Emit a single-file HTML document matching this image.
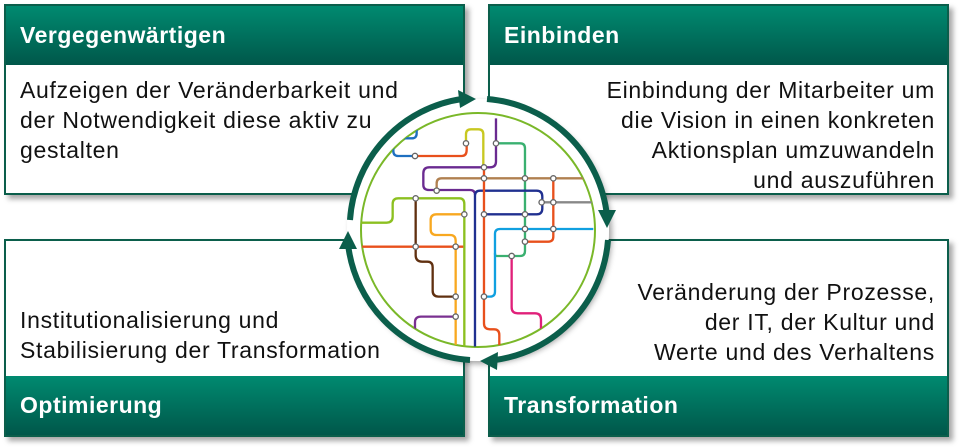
<!DOCTYPE html>
<html><head><meta charset="utf-8"><style>
body{margin:0;width:970px;height:448px;background:#fff;position:relative;overflow:hidden;font-family:"Liberation Sans",sans-serif}
.box{position:absolute;width:457px;background:#fff;border:2px solid #0b5e4b;box-shadow:4px 4px 5px rgba(0,0,0,.35)}
.hd{position:absolute;left:0;right:0;height:59px;background:linear-gradient(#008a70,#00574a);color:#fff;font-weight:bold;font-size:23px;letter-spacing:0.5px;line-height:59px;padding-left:14px}
.tx{position:absolute;font-size:23px;letter-spacing:0.7px;line-height:30px;color:#111;white-space:nowrap}
</style></head><body>
<div class="box" style="left:4px;top:4px;height:187px"><div class="hd" style="top:0">Vergegenwärtigen</div>
<div class="tx" style="left:14px;top:69px">Aufzeigen der Veränderbarkeit und<br>der Notwendigkeit diese aktiv zu<br>gestalten</div></div>
<div class="box" style="left:488px;top:4px;height:187px"><div class="hd" style="top:0">Einbinden</div>
<div class="tx" style="right:12px;top:69px;text-align:right">Einbindung der Mitarbeiter um<br>die Vision in einen konkreten<br>Aktionsplan umzuwandeln<br>und auszuführen</div></div>
<div class="box" style="left:4px;top:239px;height:194px"><div class="hd" style="bottom:0">Optimierung</div>
<div class="tx" style="left:14px;top:64px">Institutionalisierung und<br>Stabilisierung der Transformation</div></div>
<div class="box" style="left:488px;top:239px;height:194px"><div class="hd" style="bottom:0">Transformation</div>
<div class="tx" style="right:12px;top:36px;text-align:right">Veränderung der Prozesse,<br>der IT, der Kultur und<br>Werte und des Verhaltens</div></div>
<svg width="970" height="448" style="position:absolute;left:0;top:0">
<defs><clipPath id="c"><circle cx="478" cy="230" r="117"/></clipPath>
<filter id="s"><feDropShadow dx="3" dy="3" stdDeviation="3" flood-opacity=".35"/></filter></defs>
<circle cx="478" cy="230" r="131" fill="#fff" filter="url(#s)"/>
<g fill="none" stroke="#0b5e4b" stroke-width="6">
<path d="M350,220 A131,131 0 0 1 462,99"/>
<path d="M487,99 A131,131 0 0 1 607,216"/>
<path d="M608,240 A131,131 0 0 1 495,360"/>
<path d="M470,360 A131,131 0 0 1 348,244"/>
</g>
<g fill="#0b5e4b">
<polygon points="476,99 458,90 460,108"/>
<polygon points="607,228 598,210 616,210"/>
<polygon points="480,361 498,352 497,370"/>
<polygon points="348,231 339,249 357,249"/>
</g>
<circle cx="478" cy="230" r="117" fill="#fff" stroke="#7ab829" stroke-width="2"/>
<g clip-path="url(#c)"><g transform="translate(340,80) scale(0.3333)" fill="none" stroke-width="7">
<path stroke="#1e6fc0" d="M230,140 V160 Q230,175 215,175 H180 Q160,175 160,195 V213 Q160,228 175,228 H225"/>
<path stroke="#e8501c" d="M225,228 H365 Q380,228 380,210 V190"/>
<path stroke="#c8c820" d="M378,190 V163 Q378,148 393,148 H415 Q430,148 430,163 V262"/>
<path stroke="#6a2a90" d="M468,115 V245 Q468,262 450,262 H268 Q250,262 250,280 V315 Q250,330 268,330 H390 Q405,330 405,345"/>
<path stroke="#b08050" d="M760,295 H305 Q290,295 290,310 V332"/>
<path stroke="#3ab070" d="M470,190 H540 Q555,190 555,205 V513 Q555,528 540,528 H470 Q465,528 465,520"/>
<path stroke="#e8501c" d="M640,295 V470 Q640,485 625,485 H555"/>
<path stroke="#203090" d="M405,800 V347 Q405,332 420,332 H590 Q607,332 607,350 V385 Q607,403 590,403 H430"/>
<path stroke="#888" d="M605,367 H760"/>
<path stroke="#8cc020" d="M60,428 H140 Q158,428 158,410 V372 Q158,355 175,355 H358 Q373,355 373,372 V800"/>
<path stroke="#f8a820" d="M372,403 H290 Q272,403 272,420 V448 Q272,465 290,465 H330 Q347,465 347,482 V800"/>
<path stroke="#e8501c" d="M60,500 H370"/>
<path stroke="#603010" d="M227,355 V525 Q227,545 247,545 H262 Q278,545 278,562 V632 Q278,650 296,650 H347"/>
<path stroke="#10a0e0" d="M760,447 H480 Q465,447 465,462 V635 Q465,650 450,650 H432"/>
<path stroke="#e8501c" d="M432,262 V730 Q432,748 450,748 H462 Q478,748 478,765 V800"/>
<path stroke="#e0207a" d="M515,528 V682 Q515,700 533,700 H585 Q603,700 603,718 V760"/>
<path stroke="#7a3090" d="M225,760 V727 Q225,710 243,710 H347"/>
<g fill="#fff" stroke="#666" stroke-width="4">
<circle cx="378" cy="190" r="8"/><circle cx="468" cy="190" r="8"/><circle cx="225" cy="228" r="8"/><circle cx="432" cy="262" r="8"/><circle cx="432" cy="295" r="8"/><circle cx="555" cy="295" r="8"/><circle cx="640" cy="295" r="8"/><circle cx="290" cy="332" r="8"/><circle cx="227" cy="355" r="8"/><circle cx="373" cy="403" r="8"/><circle cx="432" cy="403" r="8"/><circle cx="555" cy="403" r="8"/><circle cx="605" cy="367" r="8"/><circle cx="640" cy="367" r="8"/><circle cx="555" cy="447" r="8"/><circle cx="640" cy="447" r="8"/><circle cx="555" cy="485" r="8"/><circle cx="227" cy="500" r="8"/><circle cx="347" cy="500" r="8"/><circle cx="515" cy="528" r="8"/><circle cx="347" cy="650" r="8"/><circle cx="432" cy="650" r="8"/><circle cx="347" cy="710" r="8"/>
</g></g></g>
</svg>
</body></html>
